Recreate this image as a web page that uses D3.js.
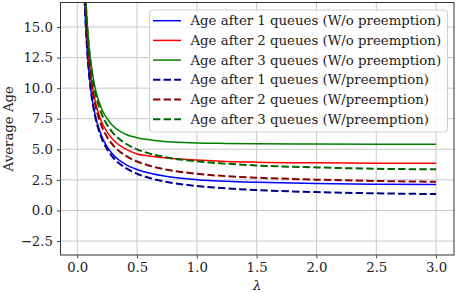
<!DOCTYPE html>
<html>
<head>
<meta charset="utf-8">
<script src="https://cdn.jsdelivr.net/npm/d3@7"></script>
<style>
  body { margin: 0; background: #fff; }
  svg { display: block; }
  text { font-family: "DejaVu Serif", serif; fill: #222; }
</style>
</head>
<body>
<svg id="chart"></svg>
<script>
// Arrival rate values (x axis)
const lambdas = [0.04, 0.05, 0.06, 0.07, 0.08, 0.1, 0.12, 0.15, 0.2, 0.25, 0.3, 0.4, 0.5, 0.6, 0.75, 1.0, 1.25, 1.5, 2.0, 2.5, 3.0];

// Average age for each curve
const age1NoPre = [26.0, 21.05, 17.72, 15.35, 13.57, 11.09, 9.44, 7.80, 6.17, 5.20, 4.56, 3.79, 3.35, 3.06, 2.78, 2.52, 2.38, 2.30, 2.20, 2.15, 2.12];
const age2NoPre = [27.1, 22.1, 18.78, 16.42, 14.65, 12.18, 10.55, 8.93, 7.33, 6.40, 5.79, 5.05, 4.62, 4.45, 4.28, 4.12, 4.01, 3.95, 3.90, 3.87, 3.85];
const age3NoPre = [28.2, 23.2, 19.9, 17.6, 15.8, 13.3, 11.7, 10.0, 8.4, 7.5, 6.9, 6.25, 5.95, 5.78, 5.62, 5.52, 5.48, 5.45, 5.43, 5.42, 5.42];
const age1Pre = [26.0, 21.0, 17.67, 15.29, 13.5, 11.0, 9.33, 7.67, 6.0, 5.0, 4.33, 3.5, 3.0, 2.67, 2.33, 2.0, 1.8, 1.67, 1.5, 1.4, 1.34];
const age2Pre = [27.0, 22.0, 18.67, 16.29, 14.5, 12.0, 10.33, 8.67, 7.0, 6.0, 5.33, 4.5, 4.0, 3.67, 3.33, 3.0, 2.8, 2.68, 2.52, 2.41, 2.35];
const age3Pre = [28.0, 23.0, 19.67, 17.29, 15.5, 13.0, 11.33, 9.67, 8.0, 7.0, 6.33, 5.5, 5.0, 4.67, 4.33, 4.02, 3.82, 3.68, 3.52, 3.41, 3.36];

const seriesNames = [
  "Age after 1 queues (W/o preemption)",
  "Age after 2 queues (W/o preemption)",
  "Age after 3 queues (W/o preemption)",
  "Age after 1 queues (W/preemption)",
  "Age after 2 queues (W/preemption)",
  "Age after 3 queues (W/preemption)"
];
const seriesValues = [age1NoPre, age2NoPre, age3NoPre, age1Pre, age2Pre, age3Pre];
const seriesColors = ["#0000ff", "#ff0000", "#008000", "#00008b", "#8b0000", "#006400"];
const seriesDashed = [false, false, false, true, true, true];

const xTicks = [0.0, 0.5, 1.0, 1.5, 2.0, 2.5, 3.0];
const yTicks = [-2.5, 0.0, 2.5, 5.0, 7.5, 10.0, 12.5, 15.0];

const width = 457;
const height = 293;
const margin = { top: 2.5, right: 3, bottom: 38, left: 60.5 };

const svg = d3.select("#chart")
  .attr("width", width)
  .attr("height", height);

const x = d3.scaleLinear()
  .domain([-0.14, 3.15])
  .range([margin.left, width - margin.right]);

const y = d3.scaleLinear()
  .domain([-3.64, 17])
  .range([height - margin.bottom, margin.top]);

const fmt = d => d3.format(".1f")(d).replace("-", "\u2212");

// Grid
svg.append("g")
  .selectAll("line")
  .data(xTicks)
  .join("line")
  .attr("x1", d => x(d)).attr("x2", d => x(d))
  .attr("y1", margin.top).attr("y2", height - margin.bottom)
  .attr("stroke", "#c8c8c8").attr("stroke-width", 1);

svg.append("g")
  .selectAll("line")
  .data(yTicks)
  .join("line")
  .attr("x1", margin.left).attr("x2", width - margin.right)
  .attr("y1", d => y(d)).attr("y2", d => y(d))
  .attr("stroke", "#c8c8c8").attr("stroke-width", 1);

// Clip
svg.append("clipPath")
  .attr("id", "clip")
  .append("rect")
  .attr("x", margin.left)
  .attr("y", margin.top)
  .attr("width", width - margin.right - margin.left)
  .attr("height", height - margin.bottom - margin.top);

const line = d3.line()
  .x((d, i) => x(lambdas[i]))
  .y(d => y(d))
  .curve(d3.curveMonotoneX);

svg.append("g")
  .attr("clip-path", "url(#clip)")
  .selectAll("path")
  .data(seriesValues)
  .join("path")
  .attr("d", d => line(d))
  .attr("fill", "none")
  .attr("stroke", (d, i) => seriesColors[i])
  .attr("stroke-width", (d, i) => seriesDashed[i] ? 2 : 1.5)
  .attr("stroke-dasharray", (d, i) => seriesDashed[i] ? "7.4,3.2" : null);

// Axes
const xAxis = svg.append("g")
  .attr("transform", `translate(0,${height - margin.bottom})`)
  .call(d3.axisBottom(x).tickValues(xTicks).tickFormat(fmt).tickSize(3.5).tickPadding(4));

const yAxis = svg.append("g")
  .attr("transform", `translate(${margin.left},0)`)
  .call(d3.axisLeft(y).tickValues(yTicks).tickFormat(fmt).tickSize(3.5).tickPadding(4));

[xAxis, yAxis].forEach(g => {
  g.select(".domain").remove();
  g.selectAll(".tick line").attr("stroke", "#333").attr("stroke-width", 0.9);
  g.selectAll(".tick text")
    .style("font-family", "'DejaVu Serif', serif")
    .style("font-size", "13.3px")
    .attr("fill", "#222");
});

// Frame
svg.append("rect")
  .attr("x", margin.left)
  .attr("y", margin.top)
  .attr("width", width - margin.right - margin.left)
  .attr("height", height - margin.bottom - margin.top)
  .attr("fill", "none")
  .attr("stroke", "#333")
  .attr("stroke-width", 1);

// Axis labels
svg.append("text")
  .attr("transform", `translate(13,${(margin.top + height - margin.bottom) / 2}) rotate(-90)`)
  .attr("text-anchor", "middle")
  .style("font-size", "13.3px")
  .text("Average Age");

svg.append("text")
  .attr("x", (margin.left + width - margin.right) / 2)
  .attr("y", 290)
  .attr("text-anchor", "middle")
  .style("font-size", "13.3px")
  .style("font-style", "italic")
  .text("\u03bb");

// Legend
const legend = svg.append("g");
legend.append("rect")
  .attr("x", 149.5)
  .attr("y", 10)
  .attr("width", 298)
  .attr("height", 122)
  .attr("rx", 3)
  .attr("fill", "rgba(255,255,255,0.8)")
  .attr("stroke", "#d0d0d0")
  .attr("stroke-width", 1);

const rows = legend.selectAll("g.row")
  .data(seriesNames)
  .join("g")
  .attr("class", "row")
  .attr("transform", (d, i) => `translate(0,${20.7 + i * 19.7})`);

rows.append("line")
  .attr("x1", 153).attr("x2", 181)
  .attr("y1", 0).attr("y2", 0)
  .attr("stroke", (d, i) => seriesColors[i])
  .attr("stroke-width", (d, i) => seriesDashed[i] ? 2 : 1.5)
  .attr("stroke-dasharray", (d, i) => seriesDashed[i] ? "7.4,3.2" : null);

rows.append("text")
  .attr("x", 190.5)
  .attr("y", 0)
  .attr("dy", "0.35em")
  .style("font-size", "13.3px")
  .text(d => d);
</script>
</body>
</html>
